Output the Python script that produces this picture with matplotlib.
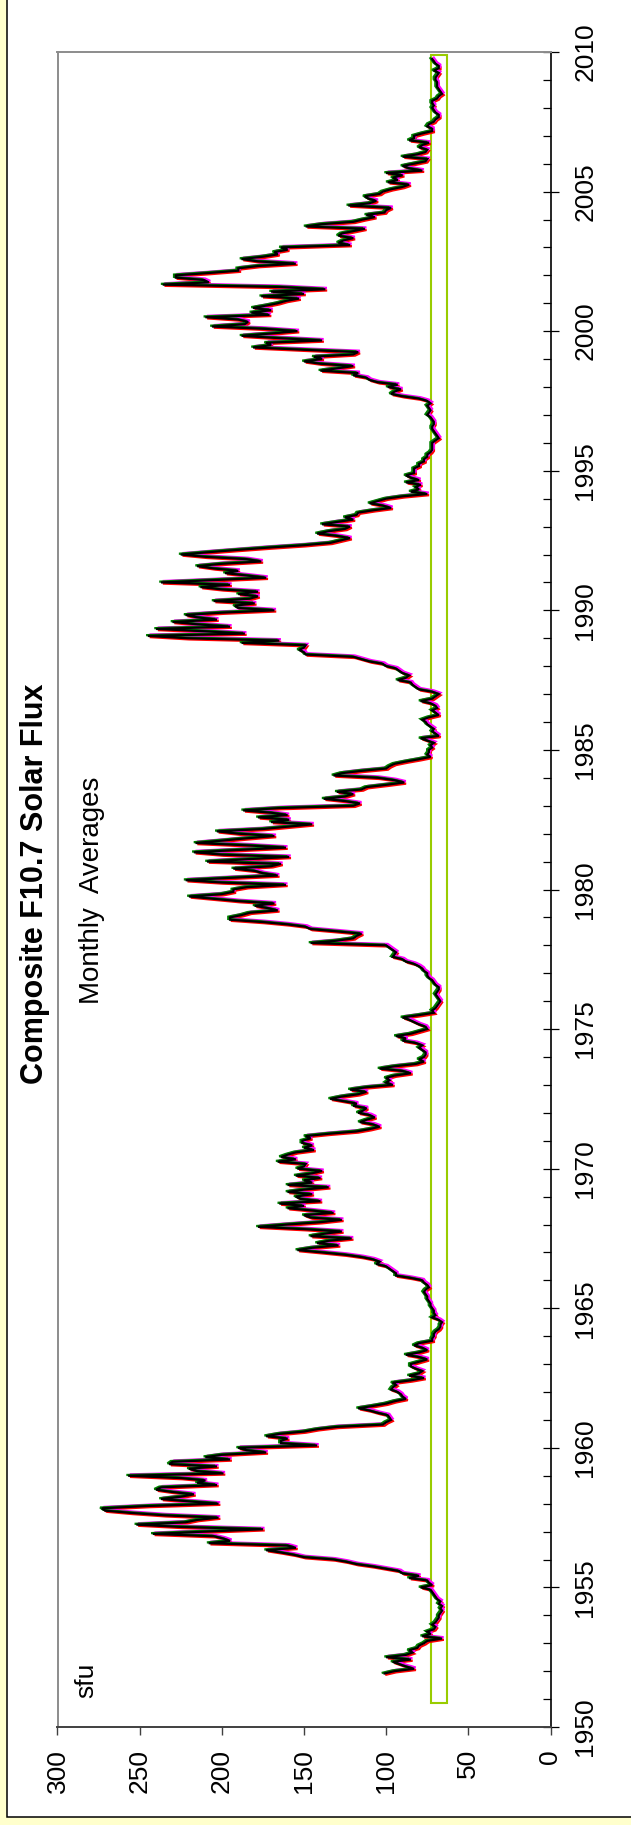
import matplotlib
matplotlib.use("Agg")
import matplotlib.pyplot as plt
import numpy as np
from matplotlib.patches import Rectangle
from matplotlib.ticker import MultipleLocator
from matplotlib.transforms import offset_copy

plt.rcParams["font.family"] = ["Liberation Sans", "DejaVu Sans"]

# monthly means (sfu), first value is Dec 1951
start_year = 1951 + 11 / 12
flux_1950s = [
    101,
    95, 83, 88, 92, 96, 85, 100, 88, 84, 86, 81, 80,
    77, 75, 66, 78, 73, 75, 71, 70, 72, 70, 69, 68,
    68, 67, 66, 67, 66, 68, 67, 69, 70, 71, 72, 73,
    79, 72, 74, 75, 86, 80, 90, 92, 100, 108, 118, 124,
    132, 150, 156, 164, 173, 155, 160, 208, 195, 199, 205, 242,
    210, 175, 225, 252, 222, 215, 202, 235, 255, 271, 273, 245,
    202, 220, 237, 225, 217, 230, 240, 237, 203, 215, 210, 225,
    257, 199, 215, 220, 203, 232, 230, 195, 210, 200, 173, 185,
]
flux_1960s = [
    190, 142, 164, 164, 160, 173, 165, 150, 142, 130, 102, 100,
    97, 98, 99, 105, 110, 117, 108, 100, 95, 88, 90, 91,
    93, 97, 96, 94, 96, 85, 77, 86, 80, 78, 82, 85,
    85, 80, 75, 80, 88, 80, 75, 78, 83, 80, 72, 72,
    71, 71, 70, 68, 67, 67, 66, 68, 72, 70, 71, 71,
    72, 73, 73, 74, 75, 75, 76, 77, 76, 74, 75, 77,
    78, 85, 94, 94, 96, 98, 100, 106, 104, 108, 115, 125,
    139, 154, 145, 129, 142, 135, 121, 146, 138, 127, 150, 178,
    160, 140, 127, 146, 150, 132, 145, 160, 150, 165, 140, 152,
    155, 145, 160, 150, 135, 160, 145, 150, 140, 155, 145, 139,
]
flux_1970s = [
    154, 150, 149, 166, 155, 164, 160, 155, 144, 150, 145, 151,
    151, 146, 149, 135, 118, 110, 104, 108, 116, 112, 107, 110,
    117, 114, 112, 120, 118, 126, 134, 127, 117, 112, 122, 112,
    96, 100, 98, 100, 95, 85, 90, 104, 95, 82, 77, 80,
    77, 76, 76, 78, 80, 78, 82, 90, 88, 94, 85, 80,
    75, 76, 80, 83, 86, 90, 80, 71, 72, 70, 69, 68,
    67, 68, 69, 70, 69, 68, 68, 70, 71, 72, 74, 75,
    75, 77, 78, 80, 83, 88, 90, 96, 95, 94, 96, 98,
    100, 146, 130, 120, 118, 115, 130, 146, 149, 160, 175, 195,
    195, 188, 183, 166, 172, 180, 168, 190, 205, 220, 200, 193,
]
flux_1980s = [
    193, 185, 161, 200, 222, 195, 166, 175, 180, 193, 170, 164,
    209, 185, 159, 200, 217, 190, 161, 185, 216, 200, 185, 168,
    190, 203, 175, 160, 145, 170, 159, 178, 160, 170, 187, 165,
    120, 116, 125, 138, 125, 120, 130, 115, 112, 100, 89, 95,
    105, 132, 127, 115, 100, 98, 95, 88, 80, 73, 75, 74,
    74, 72, 73, 71, 75, 79, 68, 70, 72, 71, 73, 75,
    76, 78, 74, 68, 70, 72, 69, 70, 73, 79, 72, 70,
    68, 72, 80, 82, 84, 85, 93, 88, 86, 90, 92, 94,
    100, 102, 110, 115, 120, 149, 150, 153, 150, 149, 188, 165,
    221, 245, 186, 210, 240, 195, 215, 230, 203, 215, 222, 200,
]
flux_1990s = [
    168, 190, 192, 180, 205, 183, 178, 190, 178, 200, 213, 195,
    237, 205, 173, 185, 198, 190, 205, 215, 200, 176, 185, 210,
    225, 208, 190, 171, 150, 134, 128, 122, 130, 142, 135, 125,
    122, 139, 130, 120, 125, 118, 117, 108, 97, 102, 110, 105,
    100, 90, 75, 85, 80, 82, 79, 88, 80, 85, 88, 83,
    83, 83, 80, 80, 77, 77, 75, 75, 73, 72, 72, 72,
    72, 70, 68, 69, 70, 71, 72, 72, 71, 71, 72, 73,
    75, 74, 73, 74, 75, 73, 75, 80, 90, 97, 95, 91,
    99, 93, 105, 110, 112, 120, 117, 140, 130, 120, 140, 150,
    139, 144, 120, 117, 150, 181, 170, 173, 139, 165, 188, 170,
]
flux_2000s = [
    154, 174, 206, 186, 184, 190, 210, 171, 182, 170, 181, 173,
    166, 161, 153, 176, 150, 170, 137, 165, 236, 208, 211, 228,
    228, 208, 190, 190, 178, 155, 178, 188, 175, 166, 168, 160,
    164, 122, 129, 126, 120, 129, 127, 120, 113, 149, 139, 120,
    114, 107, 112, 101, 100, 97, 123, 110, 106, 111, 113, 104,
    102, 97, 90, 86, 99, 93, 96, 90, 100, 78, 86, 90,
    83, 76, 75, 90, 81, 76, 75, 80, 78, 74, 86, 83,
    83, 78, 72, 72, 75, 74, 71, 70, 68, 68, 70, 71,
    72, 71, 72, 72, 69, 68, 66, 67, 68, 69, 69, 69,
    70, 70, 69, 68, 71, 68, 68, 70, 71, 72,
]

# quiet-sun band drawn as a box
band_low, band_high = 63.2, 72.9
band_start, band_end = 1950.85, 2009.9

series_colors = ["#ff0000", "#ff00ff", "#008000", "#000000"]
x_ticks = [300, 250, 200, 150, 100, 50, 0]
year_ticks = [1950, 1955, 1960, 1965, 1970, 1975, 1980, 1985, 1990, 1995, 2000, 2005, 2010]

flux = np.array(flux_1950s + flux_1960s + flux_1970s + flux_1980s + flux_1990s + flux_2000s, dtype=float)
years = start_year + np.arange(len(flux)) / 12.0

W, H = 631, 1825
fig = plt.figure(figsize=(W / 100, H / 100), dpi=100)
fig.patch.set_facecolor("#ffffcc")

# chart area (white, black border)
fig.add_artist(Rectangle((6.5 / W, 8.5 / H), 700 / W, 1817.5 / H, transform=fig.transFigure,
                         facecolor="white", edgecolor="black", linewidth=1.1, zorder=0))

ax = fig.add_axes([57.5 / W, 98 / H, 493 / W, 1675 / H])
ax.set_facecolor("white")
ax.set_xlim(300, 0)
ax.set_ylim(1950, 2010)

ax.add_patch(Rectangle((band_low, band_start), band_high - band_low, band_end - band_start,
                       facecolor="none", edgecolor="#99cc00", linewidth=1.5, zorder=2))

offsets = [(1.8, -1.2), (1.6, 1.4), (-1.8, 0.8), (0, 0)]
for color, (dx, dy) in zip(series_colors, offsets):
    tr = offset_copy(ax.transData, fig=fig, x=dx, y=dy, units="dots")
    ax.plot(flux, years, color=color, linewidth=1.6, transform=tr, zorder=3,
            solid_joinstyle="miter")

for side in ("left", "top"):
    ax.spines[side].set_color("#8c8c8c")
    ax.spines[side].set_linewidth(1.4)
ax.spines["bottom"].set_color("#404040")
ax.spines["bottom"].set_linewidth(1.4)
ax.spines["right"].set_color("black")
ax.spines["right"].set_linewidth(1.2)

ax.set_xticks(x_ticks)
ax.set_xticklabels([str(v) for v in x_ticks], rotation=90, fontsize=19)
ax.tick_params(axis="x", direction="out", length=6, width=1, color="#404040", pad=10)

ax.yaxis.tick_right()
ax.set_yticks(year_ticks)
ax.set_yticklabels([str(v) for v in year_ticks], rotation=90, fontsize=19, va="center")
ax.yaxis.set_minor_locator(MultipleLocator(1))
ax.tick_params(axis="y", which="major", direction="inout", length=11, width=0.9, pad=11)
ax.tick_params(axis="y", which="minor", direction="in", length=6, width=0.9)

fig.text(35 / W, 1 - 884 / H, "Composite F10.7 Solar Flux", rotation=90, fontsize=22,
         fontweight="bold", ha="center", va="center")
fig.text(92 / W, 1 - 890 / H, "Monthly  Averages", rotation=90, fontsize=20,
         ha="center", va="center")
fig.text(86 / W, 1 - 1680 / H, "sfu", rotation=90, fontsize=19, ha="center", va="center")

fig.savefig("out.png", dpi=100, facecolor=fig.get_facecolor())
